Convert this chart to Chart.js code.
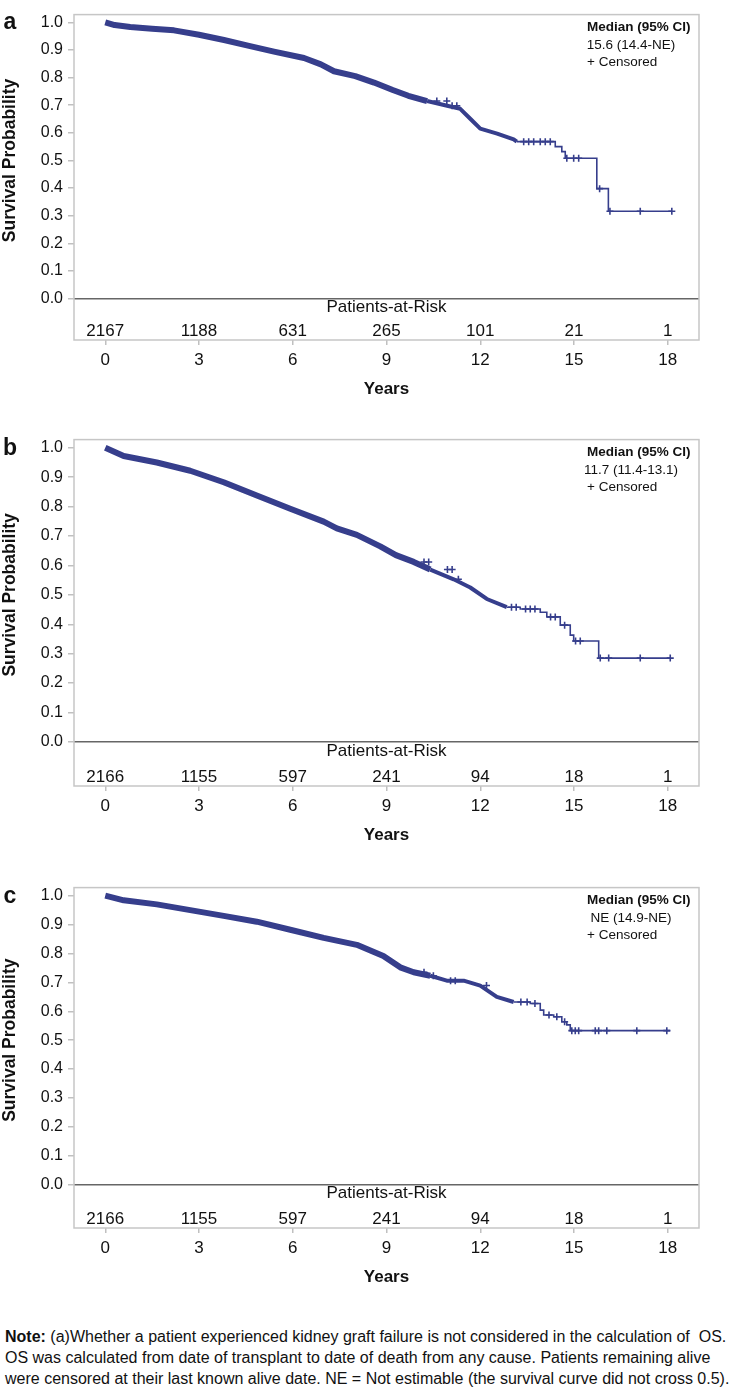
<!DOCTYPE html>
<html>
<head>
<meta charset="utf-8">
<script src="https://cdn.jsdelivr.net/npm/chart.js@4.4.1/dist/chart.umd.min.js"></script>
<style>
  html, body { margin: 0; padding: 0; background: #fff; }
  body { width: 737px; height: 1389px; position: relative; overflow: hidden; font-family: "Liberation Sans", Arial, sans-serif; }
  .panel { position: absolute; left: 0; width: 737px; }
  #note { position: absolute; left: 5px; top: 1326px; font-size: 16px; line-height: 21px; color: #111; white-space: pre; }
</style>
</head>
<body>
<div class="panel" style="top:0px;height:402px"><canvas id="chartA"></canvas></div>
<div class="panel" style="top:425px;height:423px"><canvas id="chartB"></canvas></div>
<div class="panel" style="top:873px;height:417px"><canvas id="chartC"></canvas></div>
<div id="note"><b>Note:</b> (a)Whether a patient experienced kidney graft failure is not considered in the calculation of  OS.
OS was calculated from date of transplant to date of death from any cause. Patients remaining alive
were censored at their last known alive date. NE = Not estimable (the survival curve did not cross 0.5).</div>
<script>
const FONT = '"Liberation Sans", Arial, sans-serif';
const NAVY = "#363e8c";

const xTicks = [0, 3, 6, 9, 12, 15, 18];
const yTicks = [0, 0.1, 0.2, 0.3, 0.4, 0.5, 0.6, 0.7, 0.8, 0.9, 1.0];

// panel a
const timeA = [0, 0.3, 0.8, 1.5, 2.2, 3.0, 3.8, 4.6, 5.4, 6.36, 6.9, 7.32, 8.0, 8.6, 9.2, 9.7, 10.3, 10.94, 11.36, 11.68, 12.0, 12.54, 13.07, 13.17, 14.4, 14.61, 14.72, 15.73, 16.1, 18.13];
const survA = [1.0, 0.99, 0.983, 0.977, 0.971, 0.955, 0.936, 0.915, 0.894, 0.871, 0.848, 0.823, 0.805, 0.782, 0.755, 0.734, 0.715, 0.698, 0.687, 0.651, 0.615, 0.597, 0.576, 0.568, 0.55, 0.532, 0.508, 0.398, 0.316, 0.316];
const censorA = [10.61, 10.93, 11.1, 11.25, 13.39, 13.55, 13.71, 13.92, 14.08, 14.24, 14.77, 14.99, 15.15, 15.82, 16.15, 17.12, 18.13];
const atRiskA = [2167, 1188, 631, 265, 101, 21, 1];
const medianA = "15.6 (14.4-NE)";

// panel b
const timeB = [0, 0.59, 1.65, 2.72, 3.79, 4.85, 5.92, 6.99, 7.41, 8.05, 8.8, 9.3, 9.87, 10.4, 11.15, 11.68, 12.21, 12.85, 13.28, 13.92, 14.13, 14.56, 14.88, 14.99, 15.79, 18.08];
const survB = [1.0, 0.972, 0.95, 0.922, 0.883, 0.838, 0.793, 0.749, 0.726, 0.704, 0.665, 0.635, 0.612, 0.586, 0.553, 0.525, 0.486, 0.458, 0.452, 0.441, 0.425, 0.397, 0.363, 0.343, 0.285, 0.285];
const censorB = [10.2, 10.35, 10.95, 11.1, 11.3, 13.0, 13.15, 13.45, 13.6, 13.75, 14.25, 14.4, 14.7, 15.05, 15.2, 15.84, 16.11, 17.12, 18.08];
const atRiskB = [2166, 1155, 597, 241, 94, 18, 1];
const medianB = "11.7 (11.4-13.1)";

// panel c
const timeC = [0, 0.59, 1.65, 2.72, 3.79, 4.85, 5.92, 6.99, 8.05, 8.9, 9.44, 9.87, 10.4, 10.93, 11.47, 12.0, 12.53, 13.07, 13.6, 13.92, 14.03, 14.35, 14.61, 14.77, 14.88, 18.08];
const survC = [1.0, 0.984, 0.97, 0.95, 0.93, 0.91, 0.882, 0.854, 0.83, 0.791, 0.752, 0.735, 0.723, 0.706, 0.706, 0.689, 0.65, 0.632, 0.627, 0.604, 0.587, 0.581, 0.564, 0.553, 0.533, 0.533];
const censorC = [10.2, 10.5, 11.05, 11.2, 12.2, 13.3, 13.5, 13.75, 14.2, 14.45, 14.7, 14.93, 15.04, 15.15, 15.68, 15.79, 16.05, 17.01, 17.97];
const atRiskC = [2166, 1155, 597, 241, 94, 18, 1];
const medianC = "NE (14.9-NE)";

// value of the KM step function at time t
function stepAt(times, surv, t) {
  let s = surv[0];
  for (let i = 0; i < times.length; i++) if (times[i] <= t) s = surv[i];
  return s;
}

const kmDecor = {
  id: "kmDecor",
  beforeDatasetsDraw(chart) {
    const { ctx, chartArea: a } = chart;
    ctx.save();
    ctx.strokeStyle = "#c6c6c6";
    ctx.lineWidth = 1.5;
    ctx.strokeRect(a.left, a.top, a.right - a.left, a.bottom - a.top);
    ctx.restore();
  },
  afterDraw(chart, args, o) {
    const { ctx, chartArea: a, scales: { x, y } } = chart;
    const y1 = y.getPixelForValue(1), y0 = y.getPixelForValue(0);
    const cx = (a.left + a.right) / 2;
    ctx.save();
    ctx.fillStyle = "#111";
    ctx.textAlign = "center";
    ctx.textBaseline = "alphabetic";
    ctx.font = "bold 23px " + FONT;
    ctx.fillText(o.letter, 10, y1 + 7);

    ctx.textBaseline = "middle";
    ctx.save();
    ctx.translate(10, (y0 + y1) / 2);
    ctx.rotate(-Math.PI / 2);
    ctx.font = "bold 17.5px " + FONT;
    ctx.fillText("Survival Probability", 0, 0);
    ctx.restore();

    ctx.font = "17px " + FONT;
    ctx.fillText("Patients-at-Risk", cx, y0 + 9);
    o.atRisk.forEach((n, i) => ctx.fillText(String(n), x.getPixelForValue(xTicks[i]), a.bottom - 9));

    ctx.font = "bold 17px " + FONT;
    ctx.fillText("Years", cx, a.bottom + 49);

    ctx.font = "bold 13.5px " + FONT;
    ctx.textAlign = "left";
    ctx.fillText("Median (95% CI)", 587, a.top + 12.5);
    ctx.font = "13.5px " + FONT;
    ctx.textAlign = "center";
    ctx.fillText(o.median, 631, a.top + 30.5);
    ctx.textAlign = "left";
    ctx.fillText("+ Censored", 587, a.top + 48);
    ctx.restore();
  }
};

function makeChart(id, p) {
  const dense = [], tail = [];
  p.times.forEach((t, i) => {
    if (t <= p.split) dense.push({ x: t, y: p.surv[i] });
    if (t >= p.split) tail.push({ x: t, y: p.surv[i] });
  });
  const cens = p.censor.map(t => ({ x: t, y: stepAt(p.times, p.surv, t) }));

  return new Chart(document.getElementById(id), {
    type: "line",
    data: {
      datasets: [
        {
          data: dense, borderColor: NAVY, borderWidth: 6, pointRadius: 0, tension: 0,
          borderJoinStyle: "round",
          segment: { borderWidth: c => (c.p0.parsed.x < p.thinFrom ? 6 : 4) }
        },
        { data: tail, borderColor: NAVY, borderWidth: 1.6, pointRadius: 0, stepped: true },
        {
          data: cens, showLine: false, pointStyle: "cross", pointRadius: 3.5,
          pointBorderWidth: 1.6, pointBorderColor: NAVY, borderColor: NAVY
        }
      ]
    },
    options: {
      responsive: true,
      maintainAspectRatio: false,
      animation: false,
      events: [],
      layout: { padding: { top: 9, right: 38, left: 0, bottom: 0 } },
      plugins: {
        legend: { display: false },
        tooltip: { enabled: false },
        kmDecor: { letter: p.letter, atRisk: p.atRisk, median: p.median }
      },
      scales: {
        x: {
          type: "linear", min: -1, max: 19,
          afterBuildTicks: s => { s.ticks = xTicks.map(v => ({ value: v })); },
          afterFit: s => { s.height = 62; },
          border: { display: false },
          grid: { drawOnChartArea: false, tickLength: 5, color: "#c0c0c0", lineWidth: 1.5 },
          ticks: { padding: 5, color: "#111", font: { size: 17, family: FONT }, maxRotation: 0 }
        },
        y: {
          min: -0.15, max: 1.028,
          afterBuildTicks: s => { s.ticks = yTicks.map(v => ({ value: v })); },
          afterFit: s => { s.width = 74; },
          border: { display: false },
          grid: {
            color: c => (c.tick && c.tick.value === 0 ? "#666" : "rgba(0,0,0,0)"),
            lineWidth: 1.5, tickColor: "#c0c0c0", tickLength: 6, tickWidth: 1.5
          },
          ticks: { padding: 5, color: "#111", font: { size: 16, family: FONT }, callback: v => v.toFixed(1) }
        }
      }
    },
    plugins: [kmDecor]
  });
}

makeChart("chartA", { letter: "a", times: timeA, surv: survA, censor: censorA, atRisk: atRiskA, median: medianA, split: 13.17, thinFrom: 9.9 });
makeChart("chartB", { letter: "b", times: timeB, surv: survB, censor: censorB, atRisk: atRiskB, median: medianB, split: 12.85, thinFrom: 10.4 });
makeChart("chartC", { letter: "c", times: timeC, surv: survC, censor: censorC, atRisk: atRiskC, median: medianC, split: 13.07, thinFrom: 9.9 });
</script>
</body>
</html>
